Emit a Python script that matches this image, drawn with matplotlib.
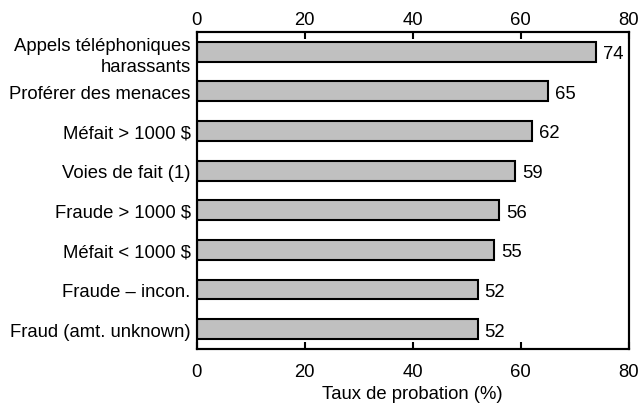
import matplotlib
matplotlib.use('Agg')
import matplotlib.pyplot as plt

plt.rcParams['font.family'] = ['Liberation Sans', 'DejaVu Sans']

# données (haut vers bas)
categories = ['Appels téléphoniques\nharassants', 'Proférer des menaces', 'Méfait > 1000 $',
              'Voies de fait (1)', 'Fraude > 1000 $', 'Méfait < 1000 $',
              'Fraude – incon.', 'Fraud (amt. unknown)']
values = [74, 65, 62, 59, 56, 55, 52, 52]
ticks = [0, 20, 40, 60, 80]

fs = 13.3
fig = plt.figure(figsize=(6.39, 4.06), dpi=100)
ax = fig.add_axes([0.308, 0.138, 0.676, 0.781])

pos = list(range(len(values)))
ax.barh(pos, values, height=0.5, color='#c0c0c0', edgecolor='black', linewidth=1.5)
for p, v in zip(pos, values):
    ax.annotate(str(v), (v, p), xytext=(5, 0), textcoords='offset points',
                va='center_baseline', ha='left', fontsize=fs)

ax.set_xlim(0, 80)
ax.set_ylim(len(values) - 0.5, -0.5)
ax.set_xticks(ticks)
ax.set_yticks(pos)
ax.set_yticklabels([])
ax.tick_params(axis='y', length=0)
# étiquettes des catégories, alignées à droite
for p, c in zip(pos, categories):
    ax.annotate(c, (0, p), xycoords=('axes fraction', 'data'), xytext=(-4.5, 0),
                textcoords='offset points', ha='right', va='center_baseline',
                multialignment='right', fontsize=fs, linespacing=1.3)
ax.tick_params(axis='x', direction='in', length=5, width=1.5, labelsize=fs, pad=10)
for s in ax.spines.values():
    s.set_linewidth(1.5)
ax.set_xlabel('Taux de probation (%)', fontsize=fs, labelpad=4)

# axe du haut
top = ax.twiny()
top.set_xlim(ax.get_xlim())
top.set_xticks(ticks)
top.tick_params(axis='x', direction='in', length=5, width=1.5, labelsize=fs, pad=3)
for s in top.spines.values():
    s.set_linewidth(1.5)

fig.savefig('out.png', dpi=100)
